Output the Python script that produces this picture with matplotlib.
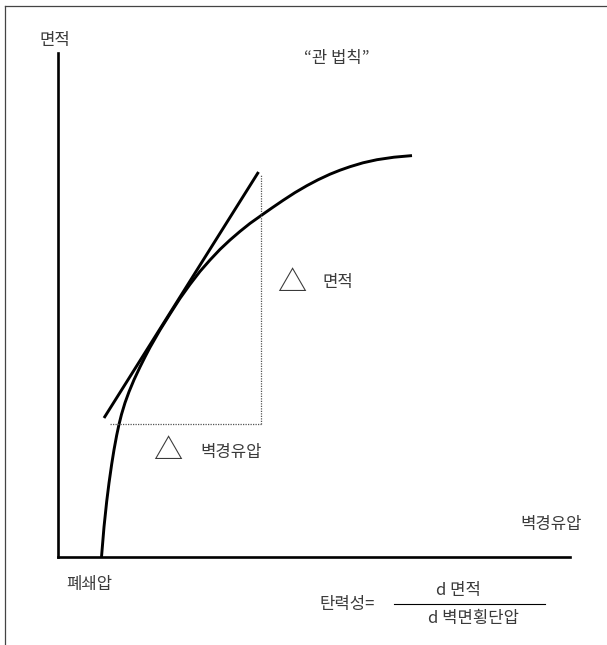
import matplotlib
matplotlib.use("Agg")
import matplotlib.pyplot as plt
from matplotlib.lines import Line2D

plt.rcParams['font.family'] = ['Noto Sans CJK KR', 'DejaVu Sans']

# ---- data (wall pressure vs. area, arbitrary units) ----
curve_pressure = [43.5, 46, 48.7, 51, 53.7, 56, 58.7, 61, 63.5, 67,
                  71, 76, 82, 87, 92, 102, 112, 122, 132, 142,
                  152, 162, 172, 182, 192, 204, 214, 225, 237, 249,
                  260, 272, 282, 292, 305, 319, 336, 354]
curve_area = [0, 30, 55.6, 74, 92.9, 107.2, 121.8, 132.6, 142.6, 154.2,
              165.2, 177.2, 190, 200, 209.6, 227, 243, 258.6, 272.6, 285.6,
              297, 307.6, 317, 325.6, 333.6, 342.1, 349.1, 356.6, 364.4, 371.4,
              377.2, 382.8, 386.8, 390.3, 394.2, 397.3, 399.8, 401.4]
tangent_pressure = [46, 200.5]
tangent_area = [139, 385]
delta_pressure = [52, 203]      # horizontal dotted leg
delta_area_base = 133.5
delta_area_top = 383

W, H = 607, 645
fig = plt.figure(figsize=(W / 100, H / 100), dpi=100)
fig.patch.set_facecolor('white')

def fx(px):
    return px / W

def fy(py):
    return 1 - py / H

# frame lines (top and left)
fig.add_artist(Line2D([fx(5), 1.0], [fy(6), fy(6)], color='#444444', lw=0.9))
fig.add_artist(Line2D([fx(5), fx(5)], [0.0, fy(6)], color='#444444', lw=0.9))

ax = fig.add_axes([fx(58), fy(557), 512 / W, 504 / H])
ax.set_xlim(0, 512)
ax.set_ylim(0, 504)
ax.set_xticks([])
ax.set_yticks([])
for s in ['top', 'right']:
    ax.spines[s].set_visible(False)
for s in ['left', 'bottom']:
    ax.spines[s].set_linewidth(1.9)
    ax.spines[s].set_color('black')
ax.patch.set_alpha(0)

ax.plot(curve_pressure, curve_area, color='black', lw=2.1,
        solid_capstyle='butt', solid_joinstyle='round', clip_on=False)
ax.plot(tangent_pressure, tangent_area, color='black', lw=2.1,
        solid_capstyle='butt', clip_on=False)
ax.plot(delta_pressure, [delta_area_base, delta_area_base], color='#555555',
        lw=0.9, linestyle=(0, (1, 1)))
ax.plot([delta_pressure[1], delta_pressure[1]], [delta_area_base, delta_area_top],
        color='#555555', lw=0.9, linestyle=(0, (1, 1)))

tc = '#3a3a3a'
fs = 12
fig.text(fx(55), fy(40), '면적', ha='center', va='center', fontsize=fs, color=tc)
fig.text(fx(337), fy(58), '“관 법칙”', ha='center', va='center', fontsize=fs, color=tc)
fig.text(fx(551), fy(524), '벽경유압', ha='center', va='center', fontsize=fs, color=tc)
fig.text(fx(89), fy(584), '폐쇄압', ha='center', va='center', fontsize=fs, color=tc)

# delta labels
fig.text(fx(292), fy(283), '△', ha='center', va='center', fontsize=21, color=tc)
fig.text(fx(338), fy(282), '면적', ha='center', va='center', fontsize=fs, color=tc)
fig.text(fx(168), fy(451), '△', ha='center', va='center', fontsize=21, color=tc)
fig.text(fx(231), fy(452), '벽경유압', ha='center', va='center', fontsize=fs, color=tc)

# elasticity formula
fig.text(fx(347), fy(604), '탄력성=', ha='center', va='center', fontsize=fs, color=tc)
fig.text(fx(458), fy(590), 'd 면적', ha='center', va='center', fontsize=fs, color=tc)
fig.add_artist(Line2D([fx(394), fx(545)], [fy(603.5), fy(603.5)], color='black', lw=0.8))
fig.text(fx(474), fy(619), 'd 벽면횡단압', ha='center', va='center', fontsize=fs, color=tc)

fig.savefig('out.png', dpi=100, facecolor='white')
